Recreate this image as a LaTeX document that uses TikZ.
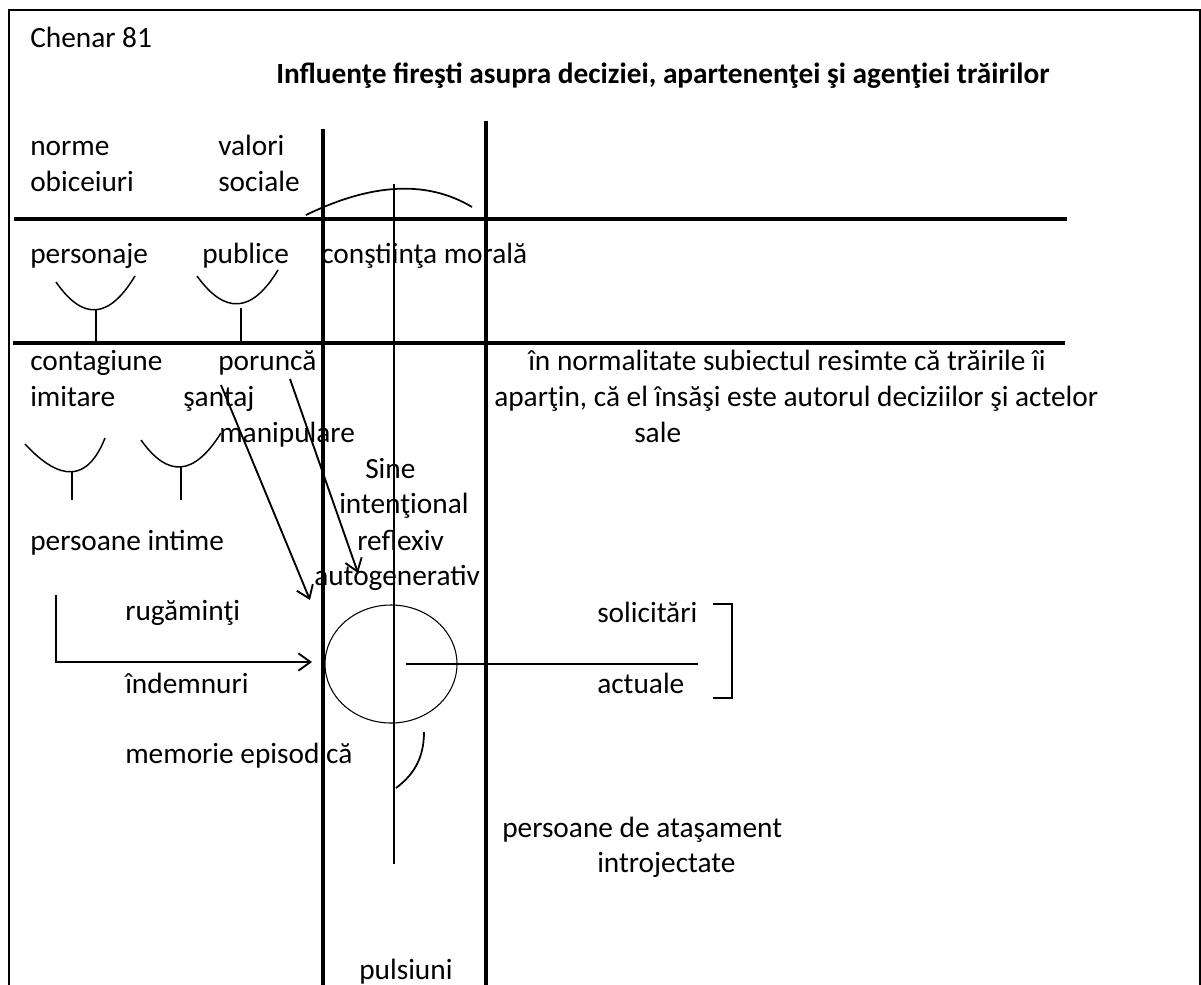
\documentclass[tikz,border=0pt]{standalone}
\usepackage{fontspec}
\setmainfont{Carlito}
\usetikzlibrary{arrows.meta}

\begin{document}
\begin{tikzpicture}[x=0.75pt, y=-0.75pt,
  lbl/.style={anchor=base west, inner sep=0pt, font=\fontsize{22}{26}\selectfont},
  ttl/.style={lbl, font=\fontsize{22}{26}\selectfont\bfseries},
  wall/.style={line width=3pt},
  fine/.style={line width=1.1pt},
  arr/.style={line width=1.4pt, -{Straight Barb[length=9pt, width=13pt, line width=1.4pt]}}]
\useasboundingbox (0,0) rectangle (1201,984);
\draw[line width=1.5pt] (9,995) -- (9,10) -- (1199.5,10) -- (1199.5,995);

\node[lbl] (chen) at (30,48) {Chenar 81};
\node[ttl] (titl) at (276,84) {Influenţe fireşti asupra deciziei, apartenenţei şi agenţiei trăirilor};

\node[lbl] (norm) at (30,156) {norme};
\node[lbl] (obic) at (30,192) {obiceiuri};
\node[lbl] (valo) at (218,156) {valori};
\node[lbl] (soci) at (218,192) {sociale};
\node[lbl] (pers) at (30,263) {personaje};
\node[lbl] (publ) at (202,263) {publice};
\node[lbl] (cons) at (321,263) {conştiinţa morală};
\node[lbl] (cont) at (30,370) {contagiune};
\node[lbl] (imit) at (30,406) {imitare};
\node[lbl] (poru) at (218,370) {poruncă};
\node[lbl] (sant) at (183,406) {şantaj};
\node[lbl] (mani) at (219,442) {manipulare};
\node[lbl] (norm1) at (528,370) {în normalitate subiectul resimte că trăirile îi};
\node[lbl] (norm2) at (494,406) {aparţin, că el însăşi este autorul deciziilor şi actelor};
\node[lbl] (norm3) at (634,442) {sale};
\node[lbl] (sine) at (365,478) {Sine};
\node[lbl] (inte) at (339,513) {intenţional};
\node[lbl] (refl) at (357,550) {reflexiv};
\node[lbl] (auto) at (314,585) {autogenerativ};
\node[lbl] (inti) at (30,550) {persoane intime};
\node[lbl] (ruga) at (125,620) {rugăminţi};
\node[lbl] (soli) at (597,622) {solicitări};
\node[lbl] (inde) at (125,693) {îndemnuri};
\node[lbl] (actu) at (597,693) {actuale};
\node[lbl] (memo) at (125,763) {memorie episodică};
\node[lbl] (atas) at (502,837) {persoane de ataşament};
\node[lbl] (intr) at (597,872) {introjectate};
\node[lbl] (puls) at (359,979) {pulsiuni};

\draw[wall] (14,219) -- (1067,219);
\draw[wall] (13,343) -- (1065,343);
\draw[wall] (323,129) -- (323,990);
\draw[wall] (486,121) -- (486,990);
\draw[fine] (394,184) -- (394,864);

\draw[line width=1.3pt] (306,215) .. controls (372,183) and (427,180) .. (472,207);
\draw[fine] (56,282) .. controls (83,321) and (109,319) .. (135,276);
\draw[fine] (96,310) -- (96,343);
\draw[fine] (197,276) .. controls (225,315) and (252,313) .. (278,270);
\draw[fine] (241,308) -- (241,343);
\draw[fine] (25,444) .. controls (61,483) and (88,481) .. (105,438);
\draw[fine] (72,472) -- (72,500);
\draw[fine] (141,440) .. controls (168,478) and (194,476) .. (221,433);
\draw[fine] (181,467) -- (181,500);

\coordinate (s1) at (221,385);
\coordinate (e1) at (310,600);
\coordinate (s2) at (290,379);
\coordinate (e2) at (358,573);
\coordinate (s3) at (56,595);
\coordinate (c3) at (56,662);
\coordinate (e3) at (312,662);
\draw[arr] (s1) -- (e1);
\draw[arr] (s2) -- (e2);
\draw[arr] (s3) -- (c3) -- (e3);

\draw[line width=0.8pt] (391,664) ellipse [x radius=66, y radius=59];
\draw[fine] (406,664) -- (698,664);
\draw[line width=1.3pt] (713,604) -- (732,604) -- (732,698) -- (713,698);
\draw[line width=1.3pt] (424,732) .. controls (424,760) and (412,776) .. (396,788);
\end{tikzpicture}
\end{document}
